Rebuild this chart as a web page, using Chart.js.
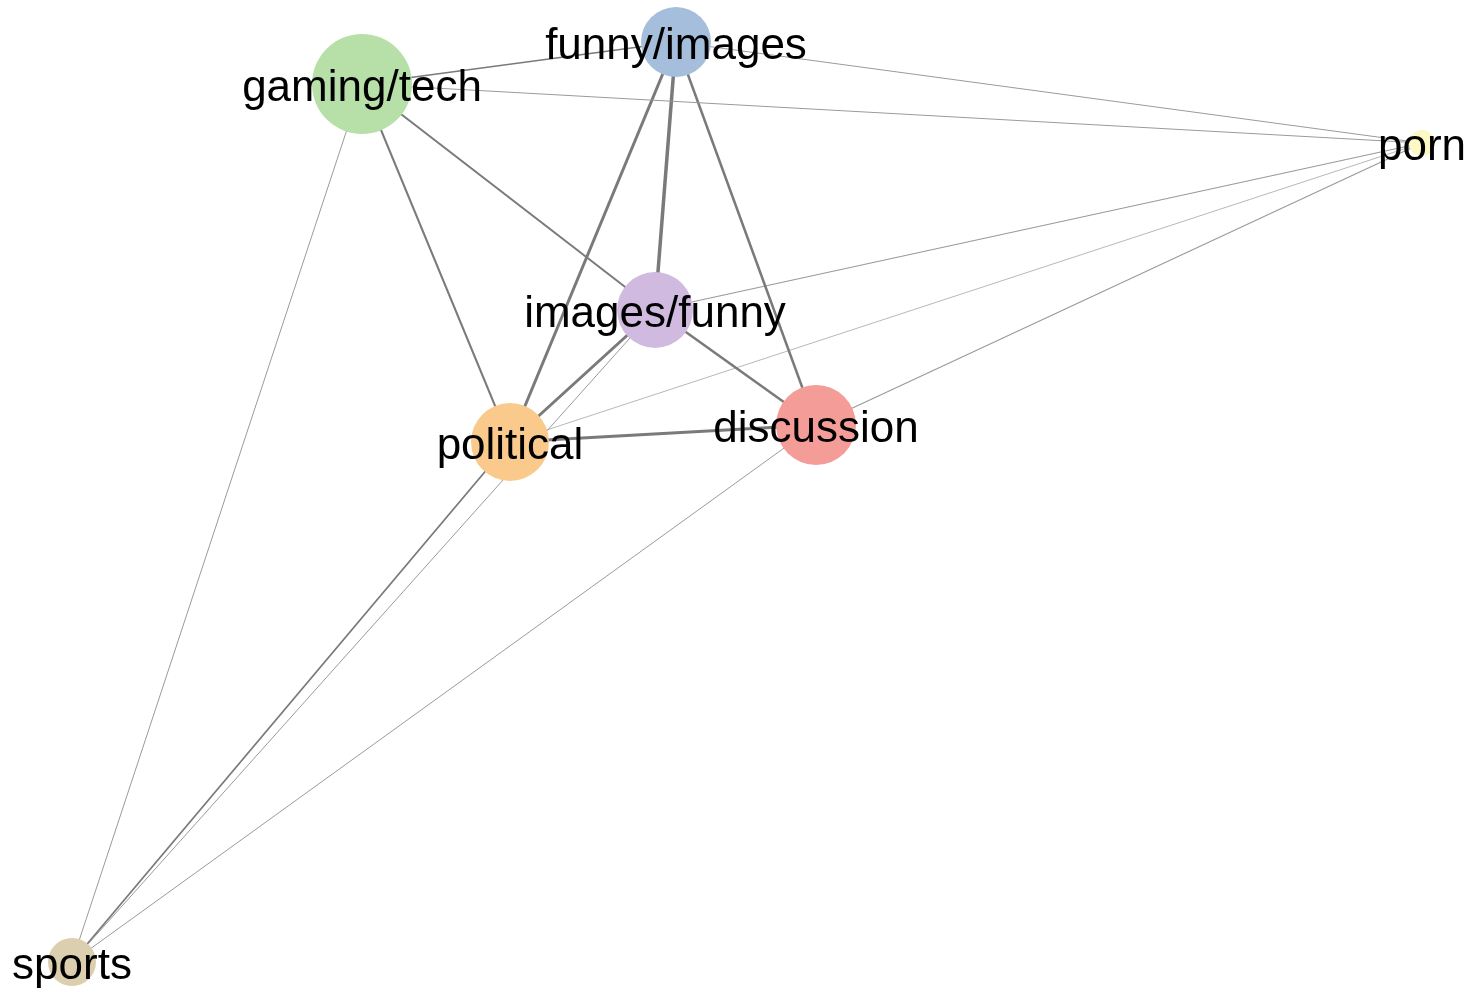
<!DOCTYPE html>
<html>
<head>
<meta charset="utf-8">
<title>Subreddit community graph</title>
<script src="https://cdn.jsdelivr.net/npm/chart.js@4.4.1/dist/chart.umd.min.js"></script>
<style>
  html, body { margin: 0; padding: 0; background: #fff; }
  #graph { display: block; }
</style>
</head>
<body>
<canvas id="graph" width="1475" height="989"></canvas>
<script>
// node layout (graph coordinates) and sizes
const nodeNames = ['gaming/tech', 'funny/images', 'porn', 'images/funny', 'political', 'discussion', 'sports'];
const nodeX = [362, 676, 1422, 655, 510, 816, 72];
const nodeY = [84, 42, 143, 310, 442, 425, 962];
const nodeSize = [50, 35, 13, 38, 39, 40, 24];

// edges between nodes, with weights
const edgeFrom = ['gaming/tech', 'gaming/tech', 'funny/images', 'gaming/tech', 'gaming/tech', 'gaming/tech',
  'funny/images', 'funny/images', 'funny/images', 'images/funny', 'images/funny', 'images/funny',
  'images/funny', 'political', 'political', 'political', 'discussion', 'discussion'];
const edgeTo = ['funny/images', 'porn', 'porn', 'images/funny', 'political', 'sports',
  'images/funny', 'political', 'discussion', 'porn', 'political', 'discussion',
  'sports', 'discussion', 'porn', 'sports', 'porn', 'sports'];
const edgeWeight = [1.5, 1, 1, 2, 2, 1,
  3.5, 3, 2.5, 1.2, 3, 2.5,
  1, 3, 0.7, 1.8, 1.2, 1];

const nodeColors = ['#b7e0a9', '#a5bedb', '#fcf9c4', '#d0badf', '#f9ca8c', '#f49d98', '#dccfaf'];

const idx = name => nodeNames.indexOf(name);

const edgeSets = edgeFrom.map((f, i) => {
  const a = idx(f), b = idx(edgeTo[i]);
  const w = edgeWeight[i];
  return {
    type: 'line',
    data: [{ x: nodeX[a], y: nodeY[a] }, { x: nodeX[b], y: nodeY[b] }],
    borderColor: w >= 1.5 ? '#7a7a7a' : '#9a9a9a',
    borderWidth: w,
    pointRadius: 0,
    fill: false,
    clip: false,
    order: 2
  };
});

const nodeSet = {
  type: 'bubble',
  data: nodeNames.map((n, i) => ({ x: nodeX[i], y: nodeY[i], r: nodeSize[i] })),
  backgroundColor: nodeColors,
  borderWidth: 0,
  hoverRadius: 0,
  clip: false,
  order: 1
};

const labelPlugin = {
  id: 'nodeLabels',
  afterDatasetsDraw(chart) {
    const ctx = chart.ctx;
    const xs = chart.scales.x, ys = chart.scales.y;
    ctx.save();
    ctx.font = "44px 'Liberation Sans', Arial, sans-serif";
    ctx.fillStyle = '#000';
    ctx.textAlign = 'center';
    ctx.textBaseline = 'middle';
    nodeNames.forEach((n, i) => {
      ctx.fillText(n, xs.getPixelForValue(nodeX[i]), ys.getPixelForValue(nodeY[i]) + 5);
    });
    ctx.restore();
  }
};

new Chart(document.getElementById('graph'), {
  type: 'scatter',
  data: { datasets: [...edgeSets, nodeSet] },
  options: {
    responsive: false,
    animation: false,
    devicePixelRatio: 1,
    layout: { padding: 0, autoPadding: false },
    plugins: { legend: { display: false }, tooltip: { enabled: false } },
    scales: {
      x: { type: 'linear', min: 0, max: 1475, display: false },
      y: { type: 'linear', min: 0, max: 989, reverse: true, display: false }
    }
  },
  plugins: [labelPlugin]
});
</script>
</body>
</html>
